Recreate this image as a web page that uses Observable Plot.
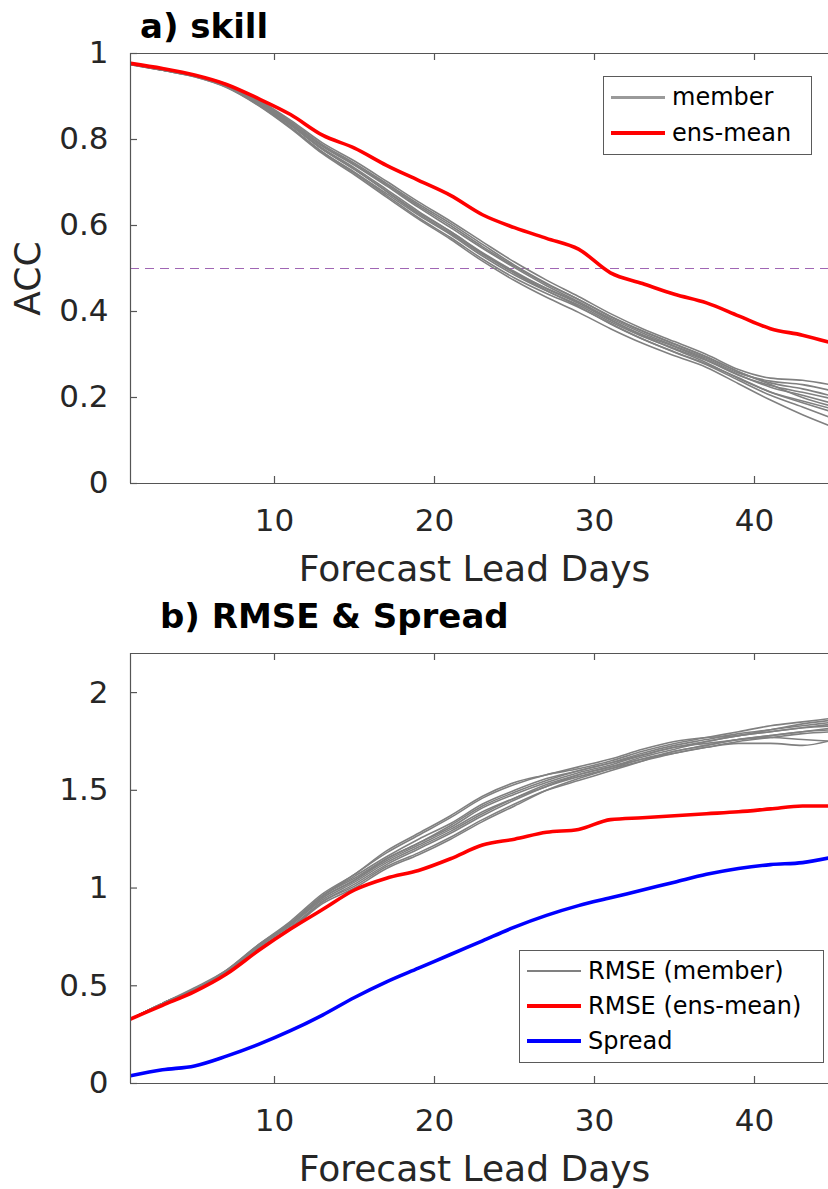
<!DOCTYPE html>
<html><head><meta charset="utf-8">
<script src="https://cdn.jsdelivr.net/npm/d3@7"></script>
<script src="https://cdn.jsdelivr.net/npm/@observablehq/plot@0.6"></script>
<style>
body{margin:0;background:#fff;}
#wrap{position:relative;width:828px;height:1189px;overflow:hidden;font-family:"DejaVu Sans",sans-serif;background:#fff;}
.title{position:absolute;font-weight:bold;font-size:34px;line-height:34px;color:#000;white-space:nowrap;}
.legend{position:absolute;border:1px solid #5a5a5a;background:#fff;box-sizing:border-box;}
.row{position:absolute;left:0;right:0;height:0;}
.row .ln{position:absolute;left:7px;width:54px;}
.row span{position:absolute;left:68px;font-size:24px;line-height:24px;top:-12px;color:#000;white-space:nowrap;}
.panel{position:absolute;left:0;}
</style></head><body><div id="wrap"></div>
<script>
// ---- data ----
const days = [1,3,5,7,9,11,13,15,17,19,21,23,25,27,29,31,33,35,37,39,41,43,45];
const xTicks = [10,20,30,40];
const accTicks = [0,0.2,0.4,0.6,0.8,1];
const rmseTicks = [0,0.5,1,1.5,2];

const accMembers = [
  [0.976,0.963,0.950,0.929,0.892,0.845,0.792,0.750,0.703,0.655,0.610,0.562,0.515,0.473,0.435,0.395,0.360,0.330,0.300,0.265,0.245,0.240,0.228],
  [0.975,0.962,0.948,0.923,0.882,0.829,0.770,0.722,0.670,0.618,0.572,0.522,0.478,0.442,0.410,0.372,0.336,0.306,0.278,0.246,0.212,0.188,0.165],
  [0.974,0.961,0.946,0.921,0.879,0.826,0.767,0.718,0.666,0.615,0.568,0.517,0.472,0.433,0.398,0.360,0.326,0.297,0.270,0.232,0.194,0.160,0.130],
  [0.975,0.962,0.949,0.927,0.889,0.842,0.788,0.745,0.698,0.650,0.605,0.556,0.508,0.466,0.428,0.389,0.355,0.325,0.295,0.260,0.234,0.220,0.202],
  [0.975,0.961,0.947,0.924,0.883,0.833,0.777,0.730,0.680,0.630,0.586,0.537,0.493,0.453,0.419,0.380,0.346,0.318,0.288,0.253,0.224,0.205,0.185],
  [0.976,0.963,0.949,0.928,0.890,0.840,0.784,0.740,0.692,0.642,0.595,0.547,0.502,0.460,0.423,0.381,0.344,0.312,0.281,0.244,0.213,0.192,0.172],
  [0.974,0.961,0.946,0.922,0.880,0.828,0.771,0.724,0.674,0.624,0.579,0.529,0.485,0.448,0.415,0.376,0.342,0.314,0.286,0.252,0.228,0.212,0.196],
  [0.975,0.962,0.948,0.925,0.886,0.836,0.780,0.734,0.684,0.633,0.586,0.535,0.489,0.449,0.412,0.371,0.336,0.305,0.276,0.240,0.205,0.178,0.150],
  [0.975,0.962,0.948,0.924,0.884,0.834,0.777,0.731,0.679,0.627,0.582,0.533,0.490,0.454,0.422,0.384,0.350,0.320,0.291,0.257,0.238,0.230,0.214],
  [0.976,0.962,0.949,0.926,0.887,0.838,0.785,0.742,0.695,0.646,0.600,0.551,0.505,0.464,0.428,0.388,0.354,0.324,0.294,0.260,0.230,0.200,0.178]
];
const accMean = [0.977,0.965,0.950,0.928,0.895,0.858,0.810,0.780,0.740,0.705,0.670,0.625,0.595,0.570,0.545,0.490,0.465,0.440,0.420,0.390,0.360,0.345,0.325];

const rmseMembers = [
  [0.33,0.41,0.48,0.57,0.70,0.82,0.96,1.07,1.18,1.27,1.36,1.46,1.53,1.58,1.61,1.65,1.70,1.74,1.77,1.80,1.83,1.85,1.87],
  [0.33,0.41,0.48,0.57,0.69,0.79,0.93,1.01,1.11,1.18,1.26,1.35,1.43,1.50,1.55,1.60,1.65,1.70,1.73,1.76,1.77,1.76,1.75],
  [0.33,0.41,0.48,0.58,0.71,0.82,0.96,1.05,1.15,1.23,1.31,1.41,1.48,1.54,1.59,1.63,1.68,1.72,1.75,1.78,1.80,1.82,1.84],
  [0.33,0.41,0.48,0.57,0.70,0.81,0.95,1.04,1.14,1.22,1.30,1.39,1.46,1.52,1.58,1.62,1.66,1.70,1.73,1.76,1.78,1.80,1.81],
  [0.33,0.40,0.47,0.56,0.69,0.79,0.92,1.00,1.10,1.17,1.25,1.34,1.42,1.50,1.56,1.61,1.66,1.69,1.72,1.75,1.77,1.79,1.80],
  [0.33,0.41,0.49,0.58,0.71,0.83,0.97,1.07,1.19,1.28,1.37,1.47,1.54,1.58,1.62,1.66,1.71,1.75,1.77,1.78,1.81,1.83,1.85],
  [0.33,0.41,0.48,0.57,0.70,0.81,0.94,1.03,1.13,1.21,1.29,1.38,1.46,1.53,1.58,1.62,1.67,1.71,1.75,1.78,1.80,1.82,1.83],
  [0.33,0.41,0.48,0.57,0.70,0.81,0.95,1.04,1.15,1.23,1.32,1.42,1.49,1.55,1.60,1.64,1.68,1.72,1.74,1.76,1.78,1.80,1.82],
  [0.33,0.40,0.48,0.57,0.69,0.80,0.93,1.02,1.12,1.20,1.28,1.37,1.45,1.52,1.57,1.61,1.65,1.69,1.72,1.74,1.74,1.73,1.76],
  [0.33,0.41,0.48,0.57,0.70,0.82,0.96,1.06,1.16,1.25,1.33,1.43,1.50,1.56,1.60,1.64,1.69,1.73,1.76,1.79,1.81,1.84,1.86]
];
const rmseMean = [0.33,0.40,0.47,0.56,0.68,0.79,0.89,0.99,1.05,1.09,1.15,1.22,1.25,1.285,1.30,1.35,1.36,1.37,1.38,1.39,1.405,1.42,1.42];
const spread = [0.04,0.07,0.09,0.14,0.20,0.27,0.35,0.44,0.52,0.59,0.66,0.73,0.80,0.86,0.91,0.95,0.99,1.03,1.07,1.10,1.12,1.13,1.16];

const accRef = 0.5;
const xLabel = "Forecast Lead Days";

// ---- helpers ----
const GRAY = "#808080", RED = "#ff0000", BLUE = "#0000ff", AXIS = "#555555";
const X0 = 1, X1 = 44.625;
const CURVE = "monotone-x";
const tidy = (arrs) => arrs.flatMap((a, i) => a.map((v, j) => ({day: days[j], v, member: i})));
const single = (a) => a.map((v, j) => ({day: days[j], v}));

function makePanel({yDomain, yTicks, lines, extra = [], yLabel}) {
  const [y0, y1] = yDomain;
  const tickY = 7 * (y1 - y0) / 430;
  const tickX = 7 / 16;
  const marks = [
    ...extra,
    ...lines,
    Plot.ruleX([X0], {stroke: AXIS, strokeWidth: 1.2}),
    Plot.ruleY([y0, y1], {stroke: AXIS, strokeWidth: 1.2}),
    Plot.ruleX(xTicks, {y1: y0, y2: y0 + tickY, stroke: AXIS, strokeWidth: 1.2}),
    Plot.ruleX(xTicks, {y1: y1, y2: y1 - tickY, stroke: AXIS, strokeWidth: 1.2}),
    Plot.ruleY(yTicks, {x1: X0, x2: X0 + tickX, stroke: AXIS, strokeWidth: 1.2}),
    Plot.axisX(xTicks, {anchor: "bottom", tickSize: 0, tickPadding: 25, fontSize: 31, fill: "#262626", label: null}),
    Plot.axisY(yTicks, {anchor: "left", tickSize: 0, tickPadding: 22, fontSize: 31, fill: "#262626", label: null, tickFormat: d => String(d)}),
    Plot.text([xLabel], {frameAnchor: "bottom", textAnchor: "middle", lineAnchor: "top", dy: 72, dx: -5, fontSize: 36, fill: "#262626"})
  ];
  if (yLabel) marks.push(Plot.text([yLabel], {frameAnchor: "left", textAnchor: "middle", rotate: -90, dx: -102, dy: 10, fontSize: 36, fill: "#262626"}));
  return Plot.plot({
    width: 828, height: 600,
    marginLeft: 130, marginRight: 0, marginTop: 53, marginBottom: 117,
    x: {domain: [X0, X1], label: null},
    y: {domain: yDomain, label: null},
    style: {fontFamily: "DejaVu Sans, sans-serif", background: "white", overflow: "visible"},
    marks
  });
}

const p1 = makePanel({
  yDomain: [0, 1], yTicks: accTicks, yLabel: "ACC",
  extra: [Plot.ruleY([accRef], {stroke: "#a066b4", strokeWidth: 1.2, strokeDasharray: "9,6"})],
  lines: [
    Plot.line(tidy(accMembers), {x: "day", y: "v", z: "member", stroke: GRAY, strokeWidth: 1.6, curve: CURVE, clip: true}),
    Plot.line(single(accMean), {x: "day", y: "v", stroke: RED, strokeWidth: 3.6, curve: CURVE, clip: true})
  ]
});
const p2 = makePanel({
  yDomain: [0, 2.2], yTicks: rmseTicks,
  lines: [
    Plot.line(tidy(rmseMembers), {x: "day", y: "v", z: "member", stroke: GRAY, strokeWidth: 1.6, curve: CURVE, clip: true}),
    Plot.line(single(rmseMean), {x: "day", y: "v", stroke: RED, strokeWidth: 3.6, curve: CURVE, clip: true}),
    Plot.line(single(spread), {x: "day", y: "v", stroke: BLUE, strokeWidth: 3.6, curve: CURVE, clip: true})
  ]
});

const wrap = document.getElementById("wrap");
p1.classList.add("panel"); p1.style.top = "0px";
p2.classList.add("panel"); p2.style.top = "600px";
wrap.appendChild(p1); wrap.appendChild(p2);

function addTitle(text, left, top) {
  const d = document.createElement("div");
  d.className = "title"; d.textContent = text;
  d.style.left = left + "px"; d.style.top = top + "px";
  wrap.appendChild(d);
}
addTitle("a) skill", 140, 9);
addTitle("b) RMSE & Spread", 160, 599);

function addLegend(items, left, top, width, height) {
  const box = document.createElement("div");
  box.className = "legend";
  Object.assign(box.style, {left: left + "px", top: top + "px", width: width + "px", height: height + "px"});
  items.forEach((it, i) => {
    const row = document.createElement("div");
    row.className = "row"; row.style.top = (20 + i * it.gap) + "px";
    const ln = document.createElement("div");
    ln.className = "ln";
    Object.assign(ln.style, {height: it.w + "px", top: (-it.w / 2) + "px", background: it.color});
    const sp = document.createElement("span"); sp.textContent = it.label;
    row.appendChild(ln); row.appendChild(sp); box.appendChild(row);
  });
  wrap.appendChild(box);
}
addLegend([
  {label: "member", color: "#9a9a9a", w: 3, gap: 36},
  {label: "ens-mean", color: RED, w: 4, gap: 36}
], 603, 76, 209, 79);
addLegend([
  {label: "RMSE (member)", color: GRAY, w: 1.6, gap: 35},
  {label: "RMSE (ens-mean)", color: RED, w: 4, gap: 35},
  {label: "Spread", color: BLUE, w: 4, gap: 35}
], 519, 950, 305, 113);
</script>
</body></html>
